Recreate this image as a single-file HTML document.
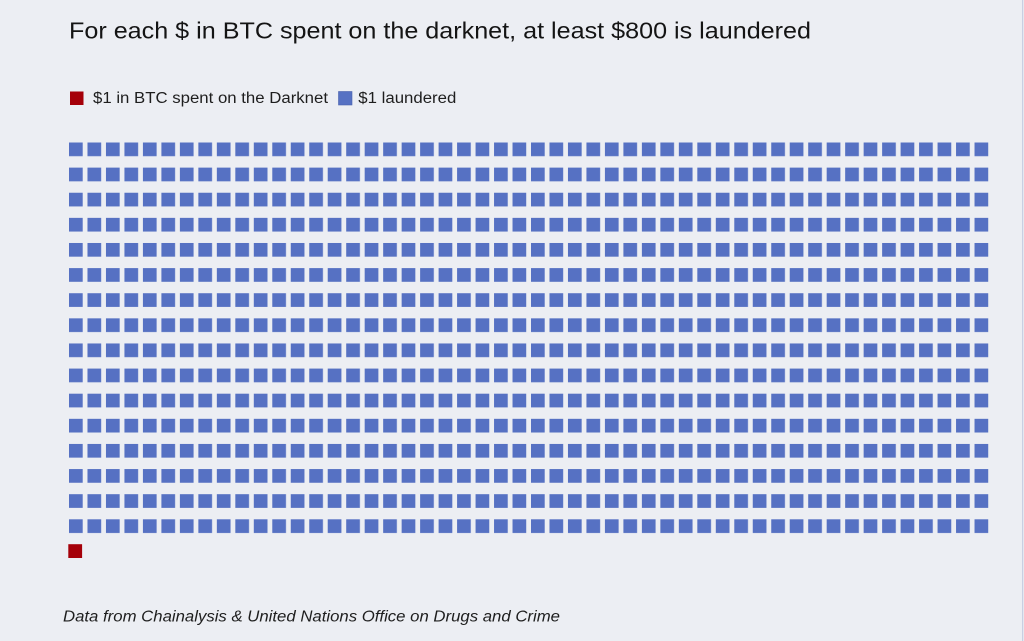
<!DOCTYPE html>
<html>
<head>
<meta charset="utf-8">
<style>
  html, body { margin: 0; padding: 0; background: #ECEEF3; }
  body { width: 1024px; height: 641px; overflow: hidden; }
  svg { display: block; }
</style>
</head>
<body>
<svg width="1024" height="641" viewBox="0 0 1024 641" xmlns="http://www.w3.org/2000/svg">
  <defs>
    <pattern id="waf" patternUnits="userSpaceOnUse" x="69" y="142.5" width="18.48" height="25.12">
      <rect x="0" y="0" width="13.7" height="13.7" fill="#5671C3"/>
    </pattern>
  </defs>
  <rect x="0" y="0" width="1024" height="641" fill="#ECEEF3"/>
  <rect x="1022" y="0" width="1.2" height="641" fill="#C9CFE2"/>

  <text x="69" y="38.3" font-family="'Liberation Sans', sans-serif" font-size="23.5" fill="#141414" textLength="742" lengthAdjust="spacingAndGlyphs">For each $ in BTC spent on the darknet, at least $800 is laundered</text>

  <rect x="70" y="91.5" width="13.5" height="13.5" fill="#A50009"/>
  <text x="93" y="103" font-family="'Liberation Sans', sans-serif" font-size="15.5" fill="#1e1e1e" textLength="235" lengthAdjust="spacingAndGlyphs">$1 in BTC spent on the Darknet</text>
  <rect x="338.5" y="91.5" width="13.5" height="13.5" fill="#5671C3" stroke="#4a63ad" stroke-width="0.6"/>
  <text x="358.3" y="103" font-family="'Liberation Sans', sans-serif" font-size="15.5" fill="#1e1e1e" textLength="98" lengthAdjust="spacingAndGlyphs">$1 laundered</text>

  <rect x="69" y="142.5" width="924" height="400" fill="url(#waf)"/>
  <rect x="68.3" y="544.2" width="13.8" height="13.8" fill="#A50009"/>

  <text x="63" y="621.5" font-family="'Liberation Sans', sans-serif" font-style="italic" font-size="15.5" fill="#1e1e1e" textLength="497" lengthAdjust="spacingAndGlyphs">Data from Chainalysis &amp; United Nations Office on Drugs and Crime</text>
</svg>
</body>
</html>
